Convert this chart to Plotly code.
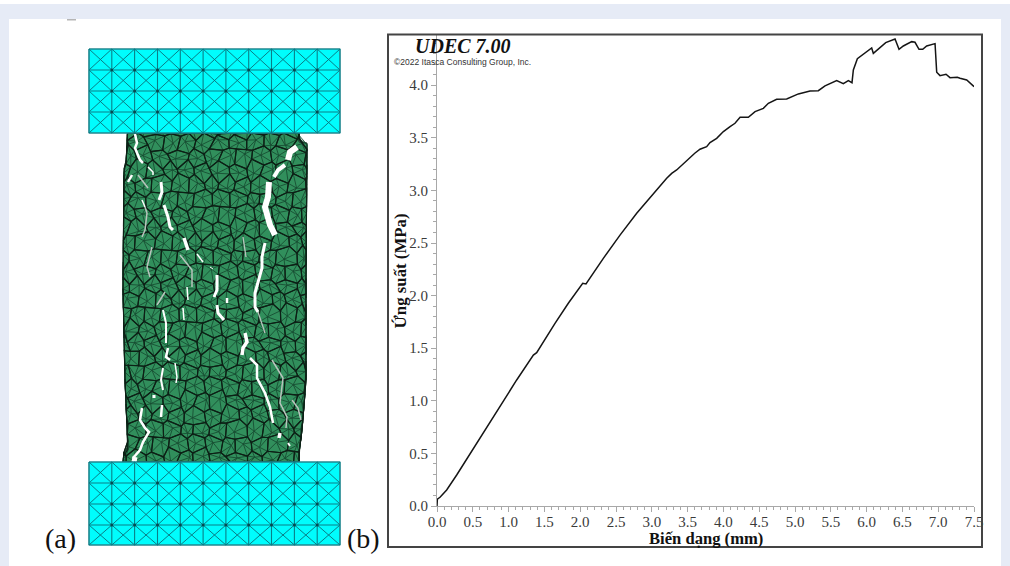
import numpy as np
import plotly.graph_objects as go

# ---------- stress-strain curve (b) ----------
strain = [0,0.005,0.042,0.135,0.275,0.508,0.74,0.88,1.113,1.346,1.392,1.648,1.834,2.035,2.081,2.323,2.556,2.789,2.928,3.045,3.208,3.278,3.347,3.60,
          3.673,3.766,3.813,3.906,4.0,4.093,4.162,4.233,4.348,4.442,4.558,4.628,4.744,4.884,5.047,5.21,5.326,5.419,
          5.582,5.675,5.745,5.796,5.815,5.871,6.071,6.094,6.267,6.397,6.453,6.513,6.63,6.676,6.732,6.784,6.839,6.956,
          6.979,7.025,7.109,7.165,7.267,7.305,7.398,7.501]
stress = [0,0.064,0.083,0.152,0.295,0.548,0.797,0.947,1.198,1.435,1.458,1.736,1.927,2.117,2.110,2.354,2.575,2.782,2.893,2.988,3.115,3.162,3.194,3.353,
          3.391,3.416,3.454,3.495,3.559,3.606,3.638,3.695,3.695,3.749,3.780,3.828,3.866,3.869,3.917,3.945,3.948,3.993,
          4.043,4.015,4.043,4.024,4.145,4.252,4.354,4.303,4.405,4.439,4.341,4.373,4.414,4.408,4.341,4.341,4.373,4.395,
          4.123,4.091,4.104,4.072,4.075,4.066,4.050,3.986]
x_ticks = [0,0.5,1,1.5,2,2.5,3,3.5,4,4.5,5,5.5,6,6.5,7,7.5]
x_labels = ["0.0","0.5","1.0","1.5","2.0","2.5","3.0","3.5","4.0","4.5","5.0","5.5","6.0","6.5","7.0","7.5"]
y_ticks = [0,0.5,1,1.5,2,2.5,3,3.5,4]
y_labels = ["0.0","0.5","1.0","1.5","2.0","2.5","3.0","3.5","4.0"]

# ---------- specimen picture (a), in picture coordinates ----------
block_columns = [89,111.8,134.6,157.5,180.3,203.1,225.9,248.7,271.5,294.4,317.2,340]
top_block_rows = [49,70,91,112,133]
bottom_block_rows = [462,483,504,525,545]

left_edge_y = [133,165,168,290,380,450,452,462]
left_edge_x = [127.5,126,124,123,125,128,124,123]
right_edge_y = [133,142,143,280,380,393,430,453,462]
right_edge_x = [299,299,307,306,306,305,302,299,299]

jitter = [(2.2,-1.3),(-2.5,1.7),(0.8,2.9),(-1.7,-2.5),(2.9,0.8),(-0.8,-1.7),(0.4,2.1),(-2.9,-0.4),(1.7,2.5),(-1.3,1.3),(2.5,-2.5),
          (-2.1,2.5),(1.3,-2.1),(-0.4,-2.9),(2.5,1.7),(-2.5,-1.3),(0.8,0.8),(-1.3,2.9),(2.1,0.4),(-1.7,-0.8),(0.4,-1.3),(2.9,-1.7),(-2.9,2.1)]

white_cracks = [
    ([135,137,135,140,143],[134,143,148,160,163],2.5),
    ([148,153,153],[167,172,175],1.5),
    ([161,162,159],[182,192,200],3),
    ([164,168,170,173],[205,217,227,230],3),
    ([184,188],[238,250],3.5),
    ([197,203],[254,262],1.5),
    ([210,213],[267,269],1),
    ([217,217,214],[275,290,297],3),
    ([217,218,224],[305,313,320],3),
    ([297,290,288],[147,152,160],6),
    ([285,278,274],[165,170,177],4),
    ([269,268,265,268,270,275],[182,197,207,217,225,235],6),
    ([265,262,262,258,255,255,258],[243,257,268,283,293,307,312],3),
    ([163,166,166],[310,323,343],2),
    ([168,166,170],[348,357,360],2.5),
    ([175,177,176],[363,377,383],1.5),
    ([163,161,163],[368,380,390],2),
    ([154,154],[395,398],3),
    ([162,161],[405,417],2.5),
    ([142,140,145,149,143,140,133],[408,420,428,432,442,450,458],2.5),
    ([132,137],[459,460],5),
    ([245,247,243,242],[333,342,348,355],3.5),
    ([250,257,257,265,270,273],[358,365,378,393,407,423],2.5),
    ([280,279],[433,438],3.5),
    ([288,290],[443,446],2),
    ([183,184],[308,320],1.5),
    ([227,227],[298,303],2.5),
    ([187,188],[287,300],1.5),
    ([128,132],[182,175],2.5),
    ([142,145],[200,207],1.5),
]
gray_cracks = [
    ([272,283,280,287,286],[360,378,403,417,428],1.5),
    ([292,298,301],[400,408,420],1.5),
    ([145,147,145,142],[207,213,230,237],1.5),
    ([152,147,150],[247,267,277],1.5),
    ([180,192,192],[255,270,287],1.5),
    ([243,246],[237,257],1.3),
    ([138,148],[175,188],1.5),
    ([165,157],[292,305],1.5),
    ([258,262,265],[312,325,333],1.3),
]

# ---------- styles ----------
SERIF = "Liberation Serif"
BAND = "#e6ebf6"
AXIS = "#a8a8a8"
FRAME = "#444444"


def seg_trace(xs, ys, color, width):
    return go.Scatter(x=xs, y=ys, mode="lines", line=dict(color=color, width=width), xaxis="x2", yaxis="y2",
                      hoverinfo="skip", showlegend=False, connectgaps=False)


def block_lines(rows):
    xs, ys, dx, dy = [], [], [], []
    for c in block_columns:
        xs += [c, c, None]; ys += [rows[0], rows[-1], None]
    for r in rows:
        xs += [block_columns[0], block_columns[-1], None]; ys += [r, r, None]
    for a, b in zip(block_columns[:-1], block_columns[1:]):
        for t, u in zip(rows[:-1], rows[1:]):
            dx += [a, b, None, a, b, None]; dy += [t, u, None, u, t, None]
    return xs, ys, dx, dy


def build_mesh():
    r = 9.6
    step_x = r * np.sqrt(3)
    step_y = r * 1.5
    seen = {}
    cells, spokes = [], []

    def vertex(px, py):
        k = (round(px / (step_x / 2)), round(py / (r / 2)))
        if k not in seen:
            j = jitter[(len(seen) * 5) % len(jitter)]
            yy = float(np.clip(py + j[1], 133, 462))
            lo = np.interp(yy, left_edge_y, left_edge_x)
            hi = np.interp(yy, right_edge_y, right_edge_x)
            seen[k] = (float(np.clip(px + j[0], lo, hi)), yy)
        return seen[k]

    row = 0
    y = 128.0
    while y < 472:
        x = 112.0 + (step_x / 2 if row % 2 else 0)
        while x < 320:
            vs = [vertex(x + r * np.cos(np.radians(30 + 60 * k)), y + r * np.sin(np.radians(30 + 60 * k))) for k in range(6)]
            c = vertex(x, y)
            cells.append(vs)
            spokes.append((c, vs))
            x += step_x
        y += step_y
        row += 1
    ox, oy, sx, sy = [], [], [], []
    for vs in cells:
        for v in vs + [vs[0]]:
            ox.append(v[0]); oy.append(v[1])
        ox.append(None); oy.append(None)
    for c, vs in spokes:
        for v in vs:
            sx += [c[0], v[0], None]; sy += [c[1], v[1], None]
    return ox, oy, sx, sy


fig = go.Figure()

# stress-strain curve
fig.add_trace(go.Scatter(x=strain, y=stress, mode="lines", line=dict(color="#151515", width=1.5),
                         xaxis="x", yaxis="y", showlegend=False, hoverinfo="skip"))

# specimen body
body_x = left_edge_x + right_edge_x[::-1]
body_y = left_edge_y + right_edge_y[::-1]
fig.add_trace(go.Scatter(x=body_x, y=body_y, mode="lines", fill="toself", fillcolor="#318f5c",
                         line=dict(color="#14301f", width=1), xaxis="x2", yaxis="y2", hoverinfo="skip", showlegend=False))
mx, my, sx, sy = build_mesh()
fig.add_trace(seg_trace(sx, sy, "#174a30", 0.85))
fig.add_trace(seg_trace(mx, my, "#0d2016", 1.15))
for cx, cy, w in gray_cracks:
    fig.add_trace(seg_trace(cx, cy, "#b9c4bd", w))
for cx, cy, w in white_cracks:
    fig.add_trace(seg_trace(cx, cy, "#ffffff", w))

# cyan platens
for rows in (top_block_rows, bottom_block_rows):
    L, R, T, B = block_columns[0], block_columns[-1], rows[0], rows[-1]
    fig.add_trace(go.Scatter(x=[L, R, R, L, L], y=[T, T, B, B, T], mode="lines", fill="toself", fillcolor="#00fdfd",
                             line=dict(color="#4f9aa0", width=1.2), xaxis="x2", yaxis="y2", hoverinfo="skip", showlegend=False))
    gx, gy, dx, dy = block_lines(rows)
    fig.add_trace(seg_trace(dx, dy, "#0a6f78", 0.9))
    fig.add_trace(seg_trace(gx, gy, "#0a7f88", 1.1))
    nx = [c for c in block_columns[1:-1] for _ in rows[1:-1]]
    ny = [r for _ in block_columns[1:-1] for r in rows[1:-1]]
    fig.add_trace(go.Scatter(x=nx, y=ny, mode="markers", marker=dict(color="#064a50", size=3), xaxis="x2", yaxis="y2",
                             hoverinfo="skip", showlegend=False))

annotations = [
    dict(text="(a)", x=60.5, y=538, font=dict(family=SERIF, size=28, color="#111111")),
    dict(text="(b)", x=363.5, y=538, font=dict(family=SERIF, size=28, color="#111111")),
    dict(text="<b><i>UDEC 7.00</i></b>", x=463, y=46, font=dict(family=SERIF, size=20, color="#111111")),
    dict(text="©2022 Itasca Consulting Group, Inc.", x=462, y=62, font=dict(family="Liberation Sans", size=8.5, color="#333333")),
    dict(text="<b>Biến dạng (mm)</b>", x=706, y=538.5, font=dict(family=SERIF, size=16.6, color="#111111")),
    dict(text="<b>Ứng suất (MPa)</b>", x=399.5, y=271, textangle=-90, font=dict(family=SERIF, size=16.8, color="#111111")),
]
for a in annotations:
    a.update(xref="x2", yref="y2", showarrow=False, xanchor="center", yanchor="middle")


def px_rect(x0, y0, x1, y1, color):
    return dict(type="rect", xref="paper", yref="paper", x0=x0/1010, y0=1-y0/566, x1=x1/1010, y1=1-y1/566,
                fillcolor=color, line=dict(width=0), layer="below")


fig.update_layout(
    width=1010, height=566, autosize=False,
    margin=dict(l=0, r=0, t=0, b=0, pad=0, autoexpand=False),
    paper_bgcolor=BAND, plot_bgcolor="rgba(0,0,0,0)",
    showlegend=False,
    xaxis=dict(domain=[437/1010, 974/1010], range=[0, 7.5], anchor="y", tickmode="array", tickvals=x_ticks, ticktext=x_labels,
               showgrid=False, zeroline=False, showline=True, linecolor=AXIS, linewidth=1,
               ticks="outside", ticklen=5, tickcolor=AXIS, tickwidth=1, ticklabelstandoff=-3,
               tickfont=dict(family=SERIF, size=15, color="#3a3a3a"),
               minor=dict(tickmode="linear", tick0=0, dtick=0.1, ticks="outside", ticklen=3, tickcolor=AXIS, tickwidth=1, showgrid=False)),
    yaxis=dict(domain=[1-506/566, 1-34/566], range=[0, 472/105.2], anchor="x", tickmode="array", tickvals=y_ticks, ticktext=y_labels,
               showgrid=False, zeroline=False, showline=True, linecolor=AXIS, linewidth=1,
               ticks="outside", ticklen=5, tickcolor=AXIS, tickwidth=1,
               tickfont=dict(family=SERIF, size=15, color="#3a3a3a"),
               minor=dict(tickmode="linear", tick0=0, dtick=0.1, ticks="outside", ticklen=3, tickcolor=AXIS, tickwidth=1, showgrid=False)),
    xaxis2=dict(domain=[0, 1], range=[0, 1010], anchor="y2", visible=False, fixedrange=True),
    yaxis2=dict(domain=[0, 1], range=[566, 0], anchor="x2", visible=False, fixedrange=True),
    annotations=annotations,
    shapes=[
        px_rect(0, 0, 1010, 4, "#ffffff"),
        px_rect(9, 19, 1001, 566, "#ffffff"),
        px_rect(67, 19, 76, 20.5, "#b5b5b5"),
        dict(type="rect", xref="x2", yref="y2", x0=388, y0=34.5, x1=982, y1=547, line=dict(color=FRAME, width=2), fillcolor="rgba(0,0,0,0)", layer="above"),
    ],
)

fig.write_html("out.html", config={"displayModeBar": False},
               post_script="document.body.style.margin='0';document.body.style.overflow='hidden';")
